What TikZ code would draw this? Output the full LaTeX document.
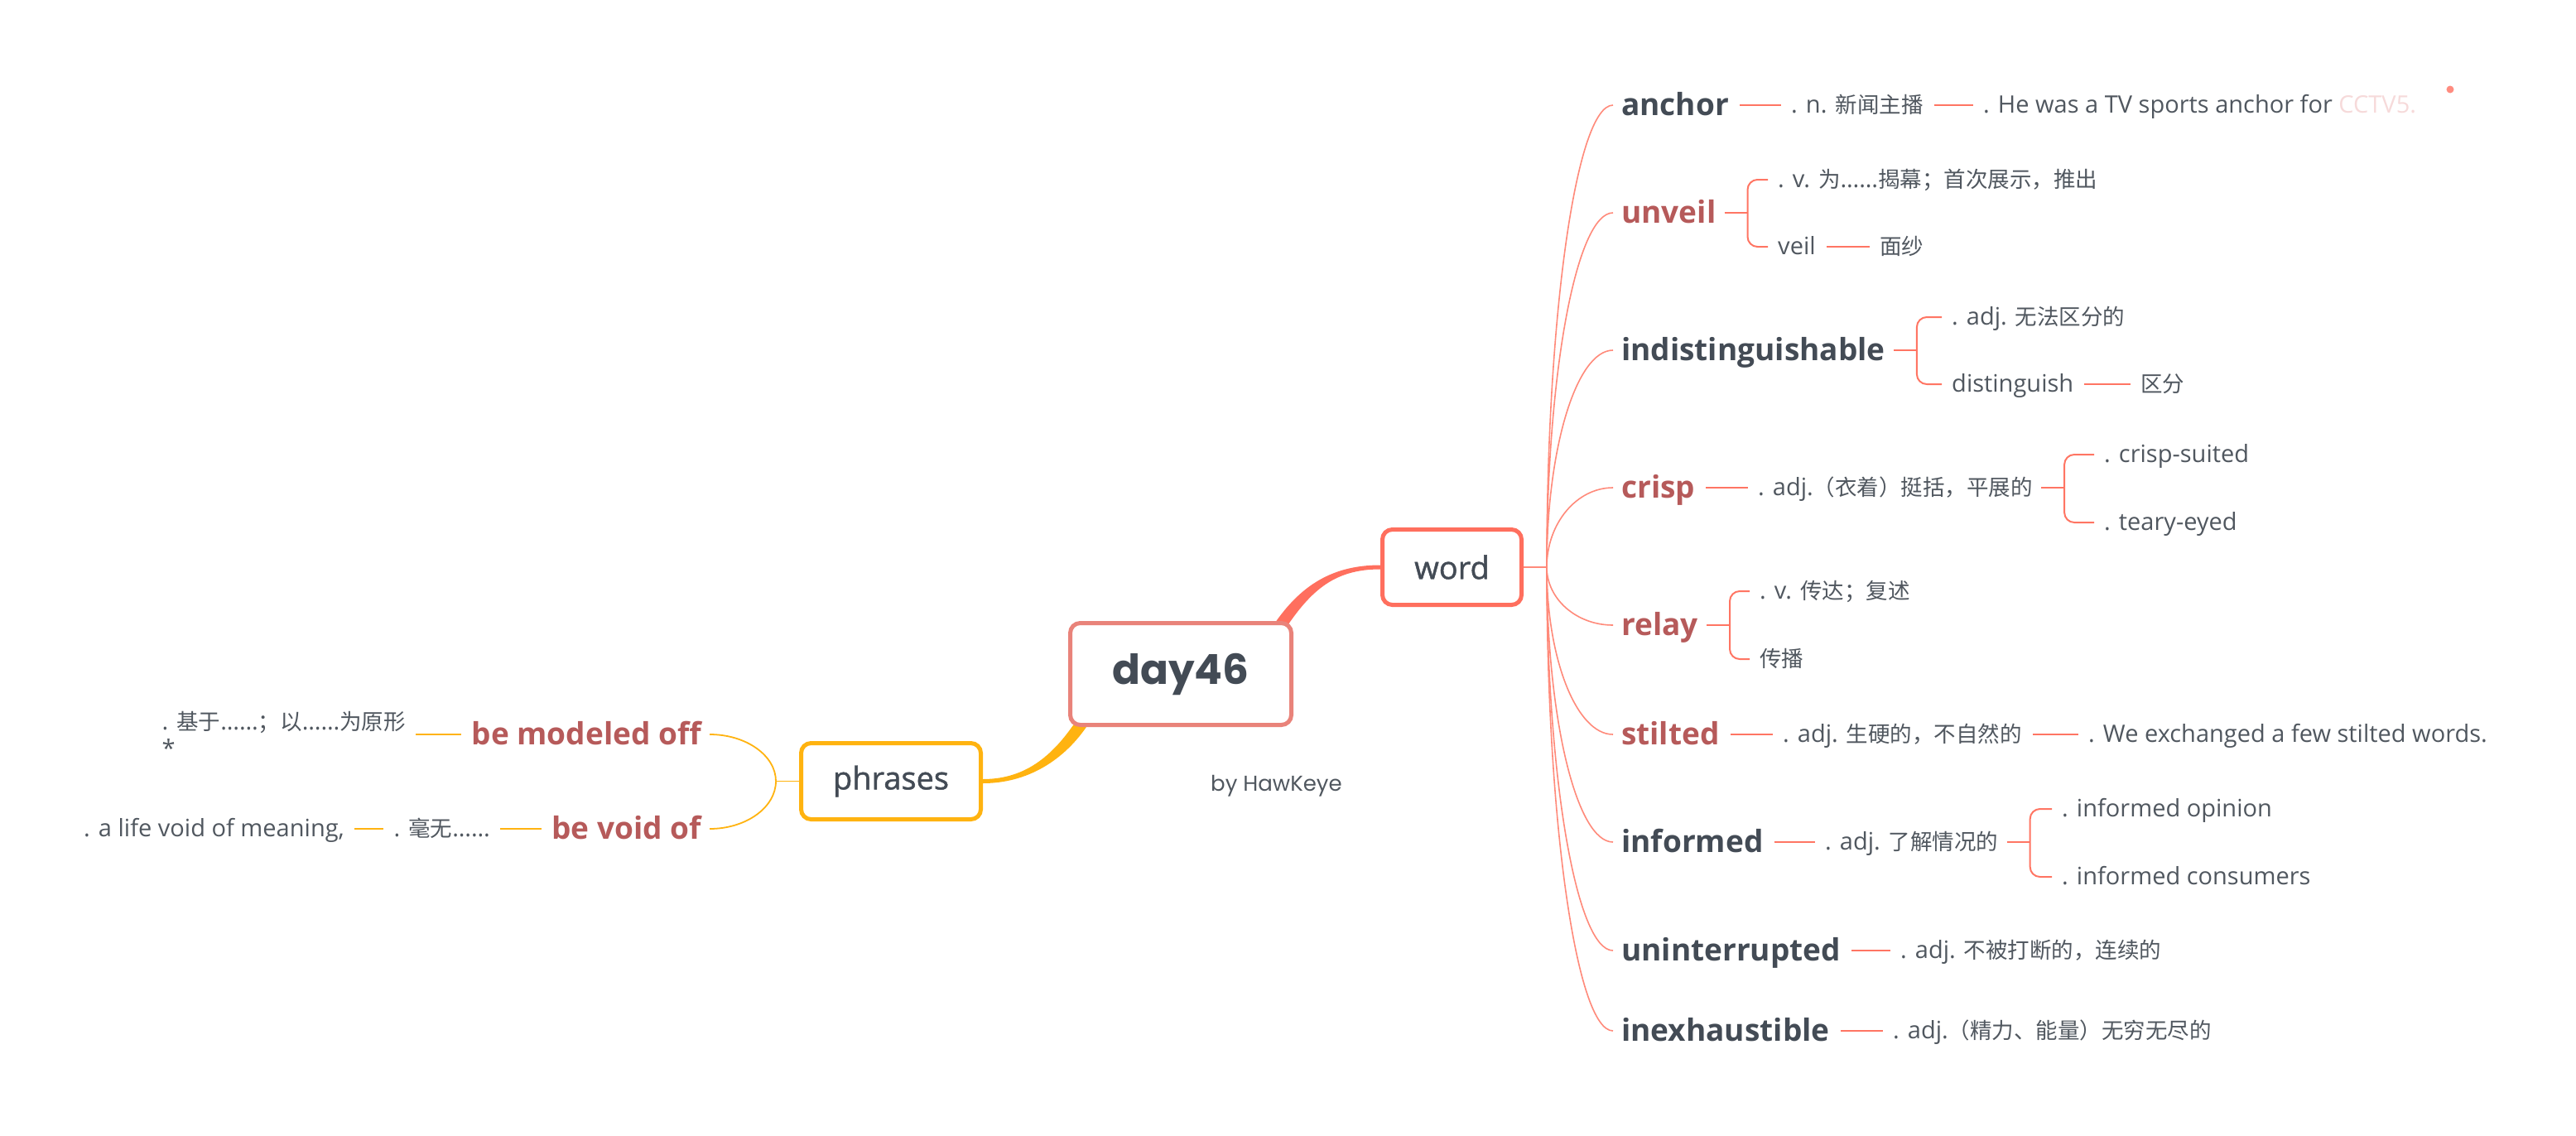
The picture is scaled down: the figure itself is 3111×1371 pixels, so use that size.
\documentclass[tikz,border=0pt]{standalone}
\usepackage{fontspec}
\setmainfont{Open Sans}
\newfontfamily\cjk{Noto Sans CJK SC}
\newfontfamily\popfont{Poppins}
\newfontfamily\midfont{Open Sans}[FakeBold=1.2]
\usetikzlibrary{calc}
\pgfdeclarelayer{bg}
\pgfsetlayers{bg,main}
\definecolor{inkdark}{HTML}{434B55}
\definecolor{inkgray}{HTML}{50575F}
\definecolor{brick}{HTML}{B65A5A}
\definecolor{tomato}{HTML}{FF6F5E}
\definecolor{rosy}{HTML}{E9837A}
\definecolor{amber}{HTML}{FFB310}
\definecolor{limbred}{HTML}{FF8A7A}
\definecolor{twigred}{HTML}{FF7563}
\definecolor{ghost}{HTML}{F6DADA}
\definecolor{dotpink}{HTML}{FF8C80}
\newcommand\zh[1]{{\cjk\fontsize{26.5}{33}\selectfont #1}}
\tikzset{
  wordtopic/.style={font=\fontsize{37}{41}\selectfont\bfseries, text=inkdark, inner sep=0pt, text height=24.5pt, text depth=0pt, anchor=west},
  redtopic/.style={wordtopic, text=brick},
  notebase/.style={font=\fontsize{29}{33}\selectfont, text=inkgray, inner sep=0pt},
  note/.style={notebase, text height=19pt, text depth=0pt, anchor=west},
  mainbox/.style={draw, line width=5pt, rounded corners=12pt, fill=white, text=inkdark, inner sep=0pt},
  limb/.style={draw=limbred, line width=1.6pt},
  twig/.style={draw=twigred, line width=2pt},
  plimb/.style={draw=amber, line width=1.8pt},
}
\begin{document}
\begin{tikzpicture}[x=1pt,y=-1pt]
\useasboundingbox (0,0) rectangle (3111,1371);
% central topics
\node[mainbox, draw=rosy, minimum width=267pt, minimum height=123pt, font=\popfont\bfseries\fontsize{50}{56}\selectfont] (day) at (1426,814) {day46};
\node[mainbox, draw=tomato, minimum width=168pt, minimum height=91pt, font=\midfont\fontsize{38}{42}\selectfont] (word) at (1753.5,685) {word};
\node[mainbox, draw=amber, minimum width=217pt, minimum height=92pt, font=\midfont\fontsize{38}{42}\selectfont] (phr) at (1076,943.5) {phrases};
\node[notebase, anchor=mid west, font=\popfont\fontsize{26}{30}\selectfont] (by) at (1462,953) {by HawKeye};
% words
\node[wordtopic] (anchor) at (1958,127) {anchor};
\node[note] (an1) at (2163,127) {. n. \zh{新闻主播}};\node[note] (an2) at (2395,127) {. He was a TV sports anchor for \textcolor{ghost}{CCTV5.}};
\node[redtopic] (unveil) at (1958,257) {unveil};
\node[note] (uv1) at (2147,217) {. v. \zh{为}……\zh{揭幕；首次展示，推出}};
\node[note] (uv2) at (2147,298) {veil};\node[note] (uv3) at (2270,298) {\zh{面纱}};
\node[wordtopic] (indist) at (1958,423) {indistinguishable};
\node[note] (in1) at (2357,383) {. adj. \zh{无法区分的}};
\node[note] (in2) at (2357,464) {distinguish};\node[note] (in3) at (2585,464) {\zh{区分}};
\node[redtopic] (crisp) at (1958,589) {crisp};
\node[note] (cr1) at (2123,589) {. adj.\zh{（衣着）挺括，平展的}};
\node[note] (cr2) at (2541,549) {. crisp-suited};\node[note] (cr3) at (2541,631) {. teary-eyed};
\node[redtopic] (relay) at (1958,755) {relay};
\node[note] (re1) at (2125,714) {. v. \zh{传达；复述}};\node[note] (re2) at (2125,796) {\zh{传播}};
\node[redtopic] (stilted) at (1958,887) {stilted};
\node[note] (st1) at (2153,887) {. adj. \zh{生硬的，不自然的}};\node[note] (st2) at (2522,887) {. We exchanged a few stilted words.};
\node[wordtopic] (informed) at (1958,1017) {informed};
\node[note] (if1) at (2204,1017) {. adj. \zh{了解情况的}};
\node[note] (if2) at (2490,977) {. informed opinion};\node[note] (if3) at (2490,1059) {. informed consumers};
\node[wordtopic] (uninter) at (1958,1148) {uninterrupted};
\node[note] (un1) at (2295,1148) {. adj. \zh{不被打断的，连续的}};
\node[wordtopic] (inexh) at (1958,1245) {inexhaustible};
\node[note] (ie1) at (2286,1245) {. adj.\zh{（精力、能量）无穷无尽的}};
% phrases
\node[redtopic, anchor=east] (bmo) at (847,887) {be modeled off};
\node[notebase, anchor=east, align=left] (basedon) at (490,887) {. \zh{基于}……\zh{；以}……\zh{为原形}\\*};
\node[redtopic, anchor=east] (bvo) at (847,1001) {be void of};
\node[note, anchor=east] (haowu) at (592,1001) {. \zh{毫无}……};
\node[note, anchor=east] (alife) at (416,1001) {. a life void of meaning,};
\fill[dotpink] (2959,108) circle (4.5);
% connectors
\begin{pgfonlayer}{bg}
\fill[tomato] ($(word.west)+(0,-2.5)$) .. controls +(-57,0) and +(35,-55) .. ($(day.north east)+(-28,11)$) -- ($(day.north east)+(-16,19)$) .. controls +(35,-55) and +(-57,0) .. ($(word.west)+(0,2.5)$) -- cycle;
\fill[amber] ($(phr.east)+(0,-2.5)$) .. controls +(53,0) and +(-30,47) .. ($(day.south west)+(14,-14)$) -- ($(day.south west)+(26,-6)$) .. controls +(-30,47) and +(53,0) .. ($(phr.east)+(0,2.5)$) -- cycle;
\coordinate (wj) at ([xshift=28pt]word.east);
\draw[limb] (word.east) -- (wj);
\foreach \t in {anchor,unveil,indist,crisp,relay,stilted,informed,uninter,inexh}
  \draw[limb] (wj) .. controls ($(wj)!0.55!(wj |- \t.west)$) and ($(\t.west)+(-54,0)$) .. ([xshift=-10pt]\t.west);
\foreach \a/\b in {anchor/an1,an1/an2,uv2/uv3,in2/in3,crisp/cr1,stilted/st1,st1/st2,informed/if1,uninter/un1,inexh/ie1}
  \draw[twig] ([xshift=13pt]\a.east) -- ([xshift=-12pt]\b.west);
\foreach \p/\c/\d in {unveil/uv1/uv2,indist/in1/in2,cr1/cr2/cr3,relay/re1/re2,if1/if2/if3}{
  \draw[twig] ([xshift=10pt]\p.east) -- ([xshift=38pt]\p.east);
  \draw[twig, rounded corners=12pt] ([xshift=-12pt]\c.west) -| ([xshift=38pt]\p.east) |- ([xshift=-12pt]\d.west);
}
\coordinate (pj) at ([xshift=-28pt]phr.west);
\draw[plimb] (phr.west) -- (pj);
\foreach \t in {bmo,bvo}
  \draw[plimb] (pj) .. controls ($(pj)!0.55!(pj |- \t.east)$) and ($(\t.east)+(54,0)$) .. ([xshift=10pt]\t.east);
\draw[plimb] ($(basedon.east |- bmo.west)+(12,0)$) -- ([xshift=-12pt]bmo.west);
\draw[plimb] ([xshift=12pt]haowu.east) -- ([xshift=-12pt]bvo.west);
\draw[plimb] ([xshift=12pt]alife.east) -- ([xshift=-12pt]haowu.west);
\end{pgfonlayer}
\end{tikzpicture}
\end{document}
